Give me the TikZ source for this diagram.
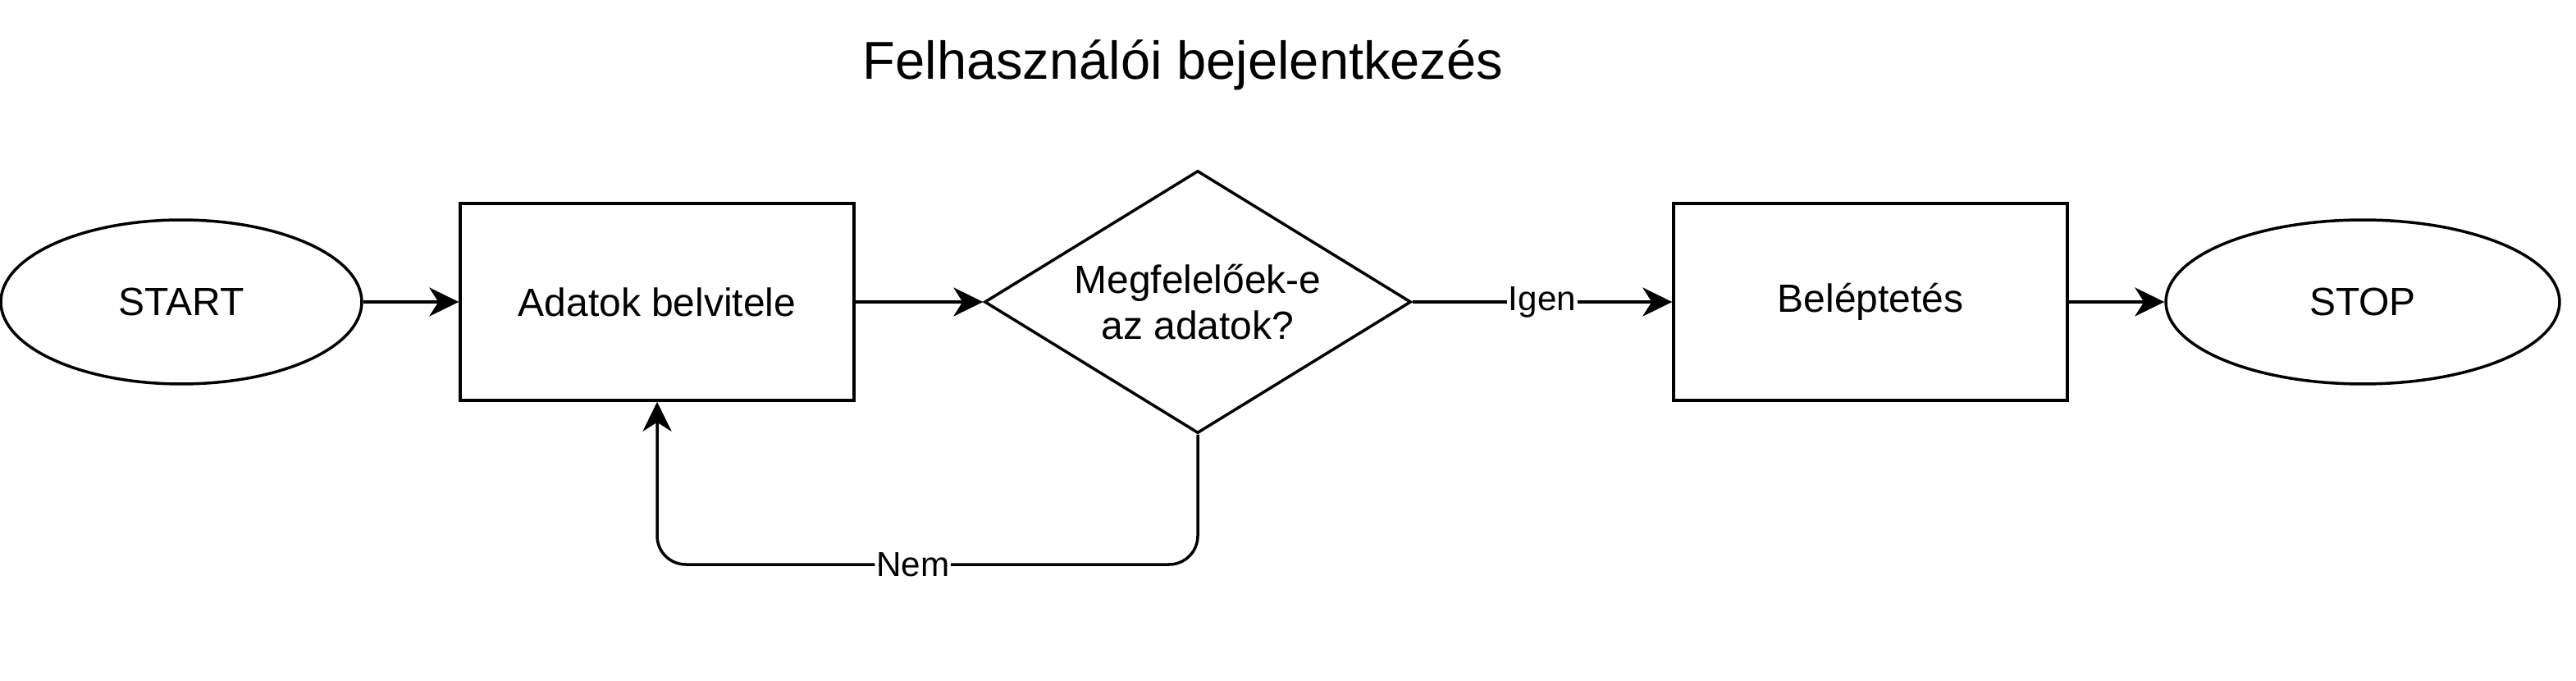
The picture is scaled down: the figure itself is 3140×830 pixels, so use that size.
\documentclass[tikz,border=0pt]{standalone}
\usepackage{fontspec}
\setmainfont{Liberation Sans}
\usetikzlibrary{shapes.geometric,arrows.meta}
\begin{document}
\begin{tikzpicture}[x=0.02cm,y=-0.02cm,
  line width=0.07cm,
  base/.style={draw=black,line width=0.07cm,inner sep=0pt,align=center,font=\fontsize{27.3}{32}\selectfont},
  procbox/.style={base,rectangle,minimum width=9.6cm,minimum height=4.8cm},
  termin/.style={base,ellipse,minimum height=4cm},
  decis/.style={base,diamond,shape aspect=1.625,minimum width=10.4cm,minimum height=6.4cm},
  arr/.style={-{Stealth[length=0.72cm,width=0.7cm,inset=0.22cm]}},
  lbl/.style={fill=white,inner sep=1pt,font=\fontsize{24}{29}\selectfont}]
\useasboundingbox (0,0) rectangle (3140,830);
\node[font=\fontsize{37}{44}\selectfont,anchor=base] (title) at (1442,97) {Felhasználói bejelentkezés};
\node[termin,minimum width=8.8cm] (start) at (221,368) {START};
\node[procbox] (adat) at (801,368) {Adatok belvitele};
\node[decis] (dec) at (1460,368) {Megfelelőek-e\\az adatok?};
\node[procbox] (belep) at (2280,368) {Beléptetés};
\node[termin,minimum width=9.6cm] (stop) at (2880,368) {STOP};
\draw[arr] (start) -- (adat);
\draw[arr] (adat) -- (dec);
\draw[arr] (dec) -- node[lbl,pos=0.5]{Igen} (belep);
\draw[arr] (belep) -- (stop);
\draw[arr,rounded corners=0.7cm] (dec.south) -- (1460,688) -- node[lbl,pos=0.527]{Nem} (801,688) -- (adat.south);
\end{tikzpicture}
\end{document}
